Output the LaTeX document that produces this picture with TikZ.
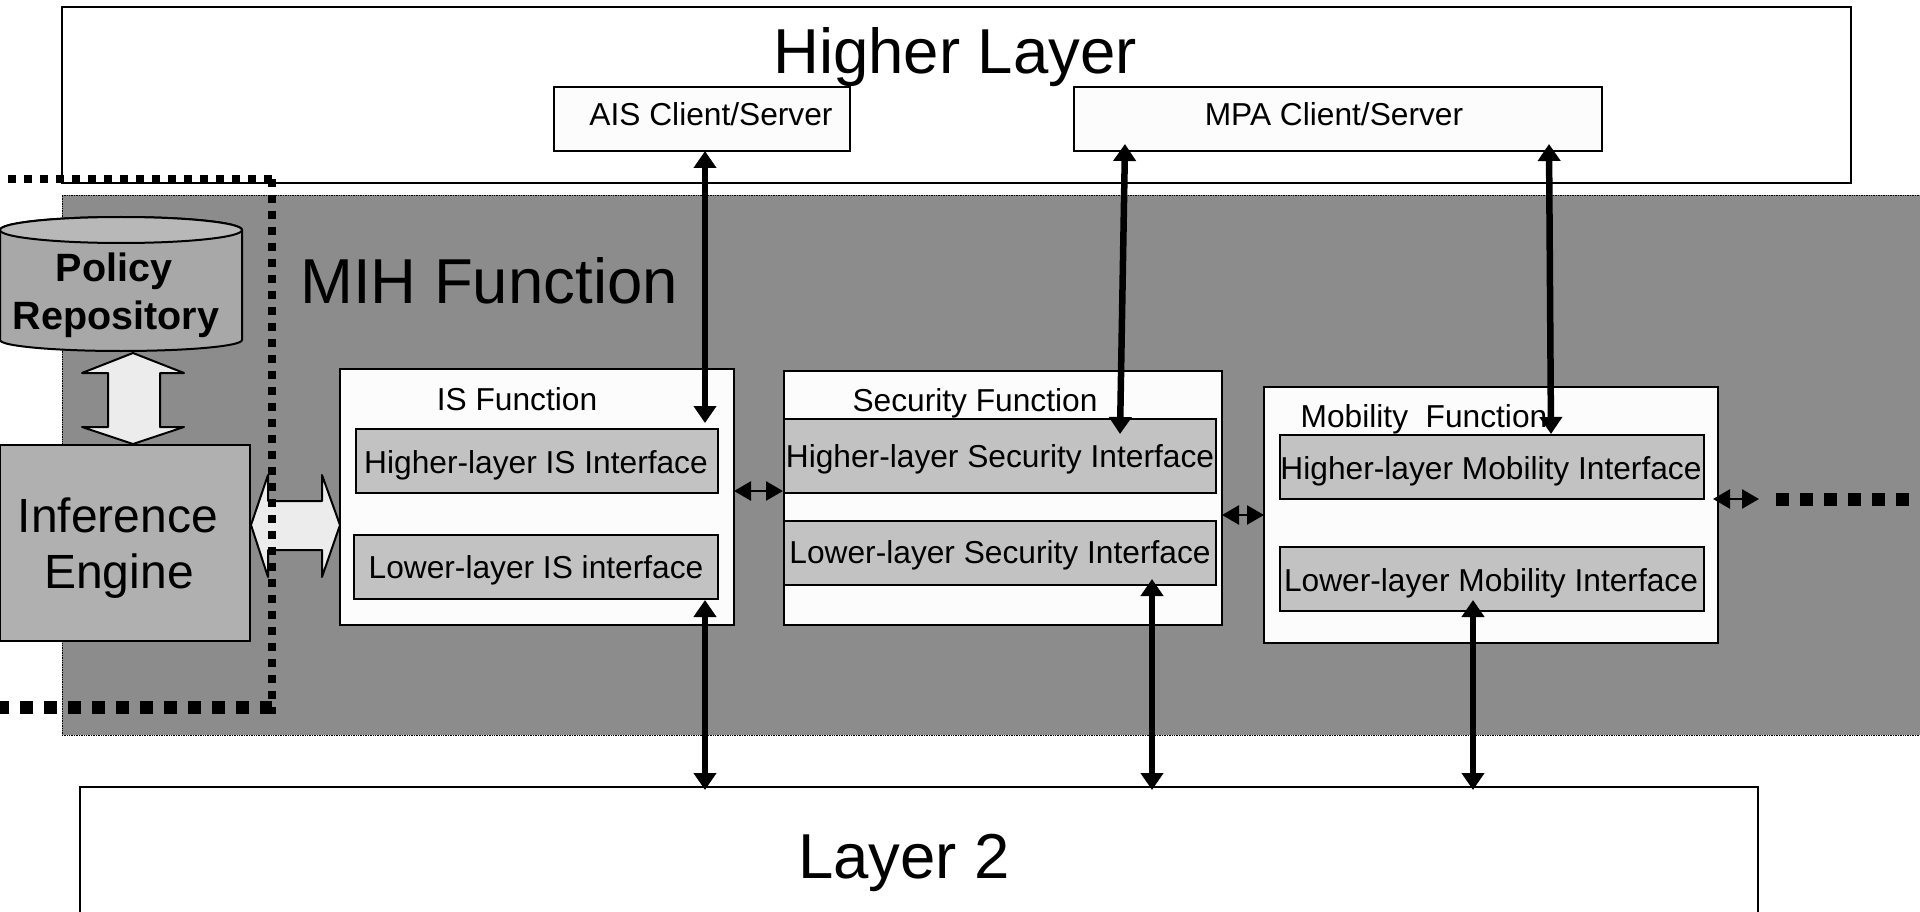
\documentclass[tikz,border=0pt]{standalone}
\usepackage{fontspec}
\setmainfont{Liberation Sans}
\usetikzlibrary{arrows.meta}
\newcommand{\fsz}[1]{\fontsize{#1}{#1}\selectfont}
\definecolor{mihgray}{HTML}{8C8C8C}
\definecolor{ifgray}{HTML}{C2C2C2}
\definecolor{boxwhite}{HTML}{FCFCFC}
\definecolor{infgray}{HTML}{B0B0B0}
\definecolor{cylbody}{HTML}{A8A8A8}
\definecolor{cyltop}{HTML}{B8B8B8}
\definecolor{blockarrow}{HTML}{ECECEC}
\tikzset{
  px/.style={x=1pt,y=-1pt},
  outline/.style={draw=black,line width=2pt,inner sep=0pt,outer sep=0pt},
  funcbox/.style={outline,fill=boxwhite},
  ifbox/.style={outline,fill=ifgray},
  label32/.style={inner sep=0pt,font=\fsz{31.7}},
  label63/.style={inner sep=0pt,font=\fsz{63.5}},
  thickarrow/.style={line width=6.5pt,{Triangle[length=17pt,width=22pt]}-{Triangle[length=17pt,width=22pt]}},
  thinarrow/.style={line width=2.5pt,{Triangle[length=17pt,width=19pt]}-{Triangle[length=17pt,width=19pt]}},
  blockshape/.style={draw=black,line width=2pt,fill=blockarrow,line join=round},
  smalldots/.style={line width=8pt,dash pattern=on 8pt off 8pt},
  bigdots/.style={line width=13pt,dash pattern=on 13pt off 11pt}
}
% name, x1, y1, x2, y2, style, text
\newcommand{\bx}[7]{%
  \pgfmathsetmacro{\bxw}{#4-#2}\pgfmathsetmacro{\bxh}{#5-#3}%
  \node[#6,minimum width=\bxw pt,minimum height=\bxh pt] (#1) at ({(#2+#4)/2},{(#3+#5)/2}) {#7};}
\begin{document}
\begin{tikzpicture}[px]
\useasboundingbox (0,0) rectangle (1920,912);
\fill[white] (0,0) rectangle (1920,912);
\begin{scope}
\clip (0,0) rectangle (1920,912);
% Higher layer
\bx{hl}{62}{7}{1851}{183}{outline,fill=white}{}
\node[label63] (hlt) at (955,57) {Higher Layer};
\bx{ais}{554}{87}{850}{151}{funcbox}{}
\node[label32] (aist) at (711,114) {AIS Client/Server};
\bx{mpa}{1074}{87}{1602}{151}{funcbox}{}
\node[label32] (mpat) at (1334,114) {MPA Client/Server};
% MIH
\bx{mih}{62}{195}{1925}{735}{draw=black,line width=0.7pt,densely dotted,fill=mihgray,inner sep=0pt,outer sep=0pt}{}
\node[label63] (miht) at (489,281) {MIH Function};
% Layer 2
\bx{ltwo}{80}{787}{1758}{960}{outline,fill=white}{}
\node[label63] (ltwot) at (904,863) {Layer 2};
% Cylinder
\draw[outline,fill=cylbody] (0,230) -- (0,340) arc[start angle=180,end angle=360,x radius=121,y radius=-11] -- (242,230) arc[start angle=0,end angle=180,x radius=121,y radius=-13] -- cycle;
\draw[outline,fill=cyltop] (121,230) ellipse[x radius=121,y radius=13];
\node[inner sep=0pt,font=\fsz{39.5}\bfseries] (pol) at (114,271) {Policy};
\node[inner sep=0pt,font=\fsz{39.5}\bfseries] (rep) at (116,319) {Repository};
% Block arrows
\draw[blockshape] (133,353) -- (184,373) -- (160,373) -- (160,427) -- (184,427) -- (133,444) -- (82,427) -- (108,427) -- (108,373) -- (82,373) -- cycle;
\bx{inf}{0}{445}{250}{641}{outline,fill=infgray}{}
\node[inner sep=0pt,font=\fsz{48}] (inft) at (118,515) {Inference};
\node[inner sep=0pt,font=\fsz{48}] (engt) at (119,576) {Engine};
\draw[blockshape] (251,525) -- (268,475) -- (268,501) -- (322,501) -- (322,475) -- (340,525) -- (322,577) -- (322,550) -- (268,550) -- (268,577) -- cycle;
% IS function
\bx{isf}{340}{369}{734}{625}{funcbox}{}
\node[label32] (ist) at (517,399) {IS Function};
\bx{ish}{356}{429}{718}{493}{ifbox}{}
\node[label32] at (536,465) {Higher-layer IS Interface};
\bx{isl}{354}{535}{718}{599}{ifbox}{}
\node[label32] at (536,570) {Lower-layer IS interface};
% Security function
\bx{sef}{784}{371}{1222}{625}{funcbox}{}
\node[label32] (set) at (975,403) {Security Function};
\bx{seh}{784}{419}{1216}{493}{ifbox}{}
\node[label32] at (1000,459) {Higher-layer Security Interface};
\bx{sel}{784}{521}{1216}{585}{ifbox}{}
\node[label32] at (1000,555) {Lower-layer Security Interface};
% Mobility function
\bx{mof}{1264}{387}{1718}{643}{funcbox}{}
\node[label32] (mot) at (1424,419) {Mobility\ \ Function};
\bx{moh}{1280}{435}{1704}{499}{ifbox}{}
\node[label32] at (1491,471) {Higher-layer Mobility Interface};
\bx{mol}{1280}{547}{1704}{611}{ifbox}{}
\node[label32] at (1491,583) {Lower-layer Mobility Interface};
% connector ends
\coordinate (a1a) at (705,151);  \coordinate (a1b) at (705,423);
\coordinate (a2a) at (1125,144); \coordinate (a2b) at (1120,434);
\coordinate (a3a) at (1549,144); \coordinate (a3b) at (1551,434);
\coordinate (b1a) at (705,600);  \coordinate (b1b) at (705,790);
\coordinate (b2a) at (1152,579); \coordinate (b2b) at (1152,790);
\coordinate (b3a) at (1473,600); \coordinate (b3b) at (1473,790);
\coordinate (c1a) at (734,491);  \coordinate (c1b) at (783,491);
\coordinate (c2a) at (1222,515); \coordinate (c2b) at (1264,515);
\coordinate (c3a) at (1713,499); \coordinate (c3b) at (1759,499);
\draw[thickarrow] (a1a) -- (a1b);
\draw[thickarrow] (a2a) -- (a2b);
\draw[thickarrow] (a3a) -- (a3b);
\draw[thickarrow] (b1a) -- (b1b);
\draw[thickarrow] (b2a) -- (b2b);
\draw[thickarrow] (b3a) -- (b3b);
\draw[thinarrow] (c1a) -- (c1b);
\draw[thinarrow] (c2a) -- (c2b);
\draw[thinarrow] (c3a) -- (c3b);
% dotted boundaries
\coordinate (d1) at (8,179); \coordinate (d2) at (272,179); \coordinate (d3) at (272,714);
\coordinate (d4) at (-4,707); \coordinate (d5) at (272,707);
\coordinate (d6) at (1776,499); \coordinate (d7) at (1910,499);
\draw[smalldots] (d1) -- (d2);
\draw[smalldots] (d2) -- (d3);
\draw[bigdots] (d4) -- (d5);
\draw[bigdots] (d6) -- (d7);
\end{scope}
\end{tikzpicture}
\end{document}
